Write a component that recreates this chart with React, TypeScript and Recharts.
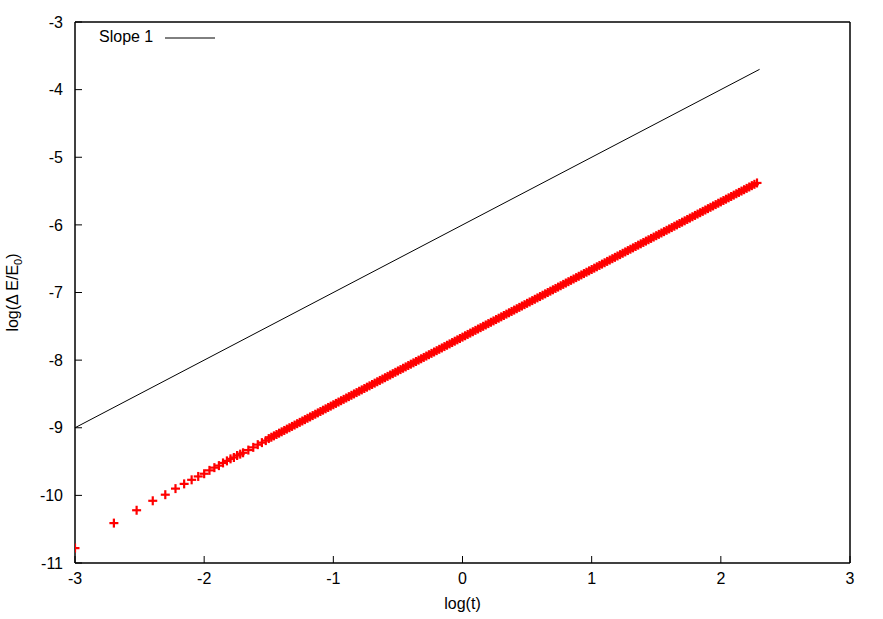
import React from "react";
import { Legend, Scatter, ScatterChart, XAxis, YAxis } from "recharts";

// axis ticks
const xTicks = [-3, -2, -1, 0, 1, 2, 3];
const yTicks = [-11, -10, -9, -8, -7, -6, -5, -4, -3];

// reference line of slope 1
const slopeLogT = [-3, 2.3];
const slopeLogE = [-9, -3.7];

// first, well separated samples (t = 0.001, 0.002, ...)
const sparseLogT = [
  -3.0, -2.699, -2.523, -2.398, -2.301, -2.222, -2.155, -2.097, -2.046, -2.0,
  -1.959, -1.921, -1.886, -1.854, -1.824, -1.796, -1.77, -1.745, -1.721, -1.699,
  -1.658, -1.62, -1.585, -1.553, -1.523,
];
const sparseLogE = [
  -10.78, -10.41, -10.22, -10.08, -9.99, -9.9, -9.83, -9.77, -9.72, -9.68,
  -9.63, -9.59, -9.56, -9.52, -9.49, -9.46, -9.44, -9.41, -9.39, -9.37,
  -9.33, -9.29, -9.25, -9.22, -9.19,
];

// dense part where the markers merge into a band
const bandLogT = [
  -1.5, -1.48, -1.46, -1.44, -1.42, -1.4, -1.38, -1.36, -1.34, -1.32,
  -1.3, -1.28, -1.26, -1.24, -1.22, -1.2, -1.18, -1.16, -1.14, -1.12,
  -1.1, -1.08, -1.06, -1.04, -1.02, -1.0, -0.98, -0.96, -0.94, -0.92,
  -0.9, -0.88, -0.86, -0.84, -0.82, -0.8, -0.78, -0.76, -0.74, -0.72,
  -0.7, -0.68, -0.66, -0.64, -0.62, -0.6, -0.58, -0.56, -0.54, -0.52,
  -0.5, -0.48, -0.46, -0.44, -0.42, -0.4, -0.38, -0.36, -0.34, -0.32,
  -0.3, -0.28, -0.26, -0.24, -0.22, -0.2, -0.18, -0.16, -0.14, -0.12,
  -0.1, -0.08, -0.06, -0.04, -0.02, 0.0, 0.02, 0.04, 0.06, 0.08,
  0.1, 0.12, 0.14, 0.16, 0.18, 0.2, 0.22, 0.24, 0.26, 0.28,
  0.3, 0.32, 0.34, 0.36, 0.38, 0.4, 0.42, 0.44, 0.46, 0.48,
  0.5, 0.52, 0.54, 0.56, 0.58, 0.6, 0.62, 0.64, 0.66, 0.68,
  0.7, 0.72, 0.74, 0.76, 0.78, 0.8, 0.82, 0.84, 0.86, 0.88,
  0.9, 0.92, 0.94, 0.96, 0.98, 1.0, 1.02, 1.04, 1.06, 1.08,
  1.1, 1.12, 1.14, 1.16, 1.18, 1.2, 1.22, 1.24, 1.26, 1.28,
  1.3, 1.32, 1.34, 1.36, 1.38, 1.4, 1.42, 1.44, 1.46, 1.48,
  1.5, 1.52, 1.54, 1.56, 1.58, 1.6, 1.62, 1.64, 1.66, 1.68,
  1.7, 1.72, 1.74, 1.76, 1.78, 1.8, 1.82, 1.84, 1.86, 1.88,
  1.9, 1.92, 1.94, 1.96, 1.98, 2.0, 2.02, 2.04, 2.06, 2.08,
  2.1, 2.12, 2.14, 2.16, 2.18, 2.2, 2.22, 2.24, 2.26, 2.28,
];
const bandLogE = [
  -9.16, -9.14, -9.12, -9.1, -9.08, -9.06, -9.04, -9.02, -9.0, -8.98,
  -8.96, -8.94, -8.92, -8.9, -8.88, -8.86, -8.84, -8.82, -8.8, -8.78,
  -8.76, -8.74, -8.72, -8.7, -8.68, -8.66, -8.64, -8.62, -8.6, -8.58,
  -8.56, -8.54, -8.52, -8.5, -8.48, -8.46, -8.44, -8.42, -8.4, -8.38,
  -8.36, -8.34, -8.32, -8.3, -8.28, -8.26, -8.24, -8.22, -8.2, -8.18,
  -8.16, -8.14, -8.12, -8.1, -8.08, -8.06, -8.04, -8.02, -8.0, -7.98,
  -7.96, -7.94, -7.92, -7.9, -7.88, -7.86, -7.84, -7.82, -7.8, -7.78,
  -7.76, -7.74, -7.72, -7.7, -7.68, -7.66, -7.64, -7.62, -7.6, -7.58,
  -7.56, -7.54, -7.52, -7.5, -7.48, -7.46, -7.44, -7.42, -7.4, -7.38,
  -7.36, -7.34, -7.32, -7.3, -7.28, -7.26, -7.24, -7.22, -7.2, -7.18,
  -7.16, -7.14, -7.12, -7.1, -7.08, -7.06, -7.04, -7.02, -7.0, -6.98,
  -6.96, -6.94, -6.92, -6.9, -6.88, -6.86, -6.84, -6.82, -6.8, -6.78,
  -6.76, -6.74, -6.72, -6.7, -6.68, -6.66, -6.64, -6.62, -6.6, -6.58,
  -6.56, -6.54, -6.52, -6.5, -6.48, -6.46, -6.44, -6.42, -6.4, -6.38,
  -6.36, -6.34, -6.32, -6.3, -6.28, -6.26, -6.24, -6.22, -6.2, -6.18,
  -6.16, -6.14, -6.12, -6.1, -6.08, -6.06, -6.04, -6.02, -6.0, -5.98,
  -5.96, -5.94, -5.92, -5.9, -5.88, -5.86, -5.84, -5.82, -5.8, -5.78,
  -5.76, -5.74, -5.72, -5.7, -5.68, -5.66, -5.64, -5.62, -5.6, -5.58,
  -5.56, -5.54, -5.52, -5.5, -5.48, -5.46, -5.44, -5.42, -5.4, -5.38,
];

const FONT = '"Liberation Sans", Arial, sans-serif';

const slopeData = slopeLogT.map((x, i) => ({ x, y: slopeLogE[i] }));
const energyData = [
  ...sparseLogT.map((x, i) => ({ x, y: sparseLogE[i] })),
  ...bandLogT.map((x, i) => ({ x, y: bandLogE[i] })),
];

function Cross(props: any) {
  const { cx, cy } = props;
  if (cx == null || cy == null) return <g />;
  return (
    <g>
      <line x1={cx - 4.5} x2={cx + 4.5} y1={cy} y2={cy} stroke="#ff0000" strokeWidth={2.2} />
      <line x1={cx} x2={cx} y1={cy - 4.5} y2={cy + 4.5} stroke="#ff0000" strokeWidth={2.2} />
    </g>
  );
}

const tickStyle = { fill: "#000", fontSize: 16, fontFamily: FONT };
const axisLine = { stroke: "#000", strokeWidth: 1.5 };
const tickLine = { stroke: "#000", strokeWidth: 1 };

function XLabel(props: any) {
  const vb = props.viewBox;
  return (
    <text
      x={vb.x + vb.width / 2}
      y={vb.y + 46}
      textAnchor="middle"
      fill="#000"
      fontSize={16}
      fontFamily={FONT}
    >
      log(t)
    </text>
  );
}

function YLabel(props: any) {
  const vb = props.viewBox;
  const x = vb.x + 3;
  const y = vb.y + vb.height / 2;
  return (
    <text
      x={x}
      y={y}
      transform={`rotate(-90, ${x}, ${y})`}
      textAnchor="middle"
      fill="#000"
      fontSize={16}
      fontFamily={FONT}
    >
      log(Δ E/E
      <tspan dy={4} fontSize={11}>
        0
      </tspan>
      <tspan dy={-4}>)</tspan>
    </text>
  );
}

function SlopeLegend() {
  return (
    <div
      style={{
        display: "flex",
        alignItems: "center",
        fontFamily: FONT,
        fontSize: 16,
        lineHeight: "16px",
        color: "#000",
      }}
    >
      <span>Slope 1</span>
      <svg width={50} height={16} style={{ marginLeft: 12 }}>
        <line x1={0} x2={50} y1={9} y2={9} stroke="#000" strokeWidth={1} />
      </svg>
    </div>
  );
}

export default function App() {
  return (
    <div>
      <style>{"body{margin:0}"}</style>
      <ScatterChart
        width={883}
        height={619}
        margin={{ top: 21, right: 32, bottom: 16, left: 15 }}
        style={{ background: "#fff" }}
      >
        <XAxis
          xAxisId="b"
          type="number"
          dataKey="x"
          domain={[-3, 3]}
          ticks={xTicks}
          interval={0}
          allowDataOverflow
          height={40}
          tickSize={-7}
          tickMargin={17}
          axisLine={axisLine}
          tickLine={tickLine}
          tick={tickStyle}
          label={XLabel}
        />
        <XAxis
          xAxisId="t"
          orientation="top"
          type="number"
          dataKey="x"
          domain={[-3, 3]}
          ticks={xTicks}
          interval={0}
          allowDataOverflow
          height={1}
          tickSize={-7}
          axisLine={axisLine}
          tickLine={tickLine}
          tick={false}
        />
        <YAxis
          yAxisId="l"
          type="number"
          dataKey="y"
          domain={[-11, -3]}
          ticks={yTicks}
          interval={0}
          allowDataOverflow
          width={60}
          tickSize={-7}
          tickMargin={19}
          axisLine={axisLine}
          tickLine={tickLine}
          tick={tickStyle}
          label={YLabel}
        />
        <YAxis
          yAxisId="r"
          orientation="right"
          type="number"
          dataKey="y"
          domain={[-11, -3]}
          ticks={yTicks}
          interval={0}
          allowDataOverflow
          width={1}
          tickSize={-7}
          axisLine={axisLine}
          tickLine={tickLine}
          tick={false}
        />
        <Legend
          layout="vertical"
          align="center"
          verticalAlign="middle"
          wrapperStyle={{ top: 29, left: 99, width: "auto", height: "auto" }}
          content={SlopeLegend}
        />
        <Scatter
          name="Slope 1"
          xAxisId="b"
          yAxisId="l"
          data={slopeData}
          line={{ stroke: "#000", strokeWidth: 1 }}
          shape={() => <g />}
          isAnimationActive={false}
        />
        <Scatter
          name="energy"
          xAxisId="b"
          yAxisId="l"
          data={energyData}
          shape={Cross}
          isAnimationActive={false}
        />
      </ScatterChart>
    </div>
  );
}
